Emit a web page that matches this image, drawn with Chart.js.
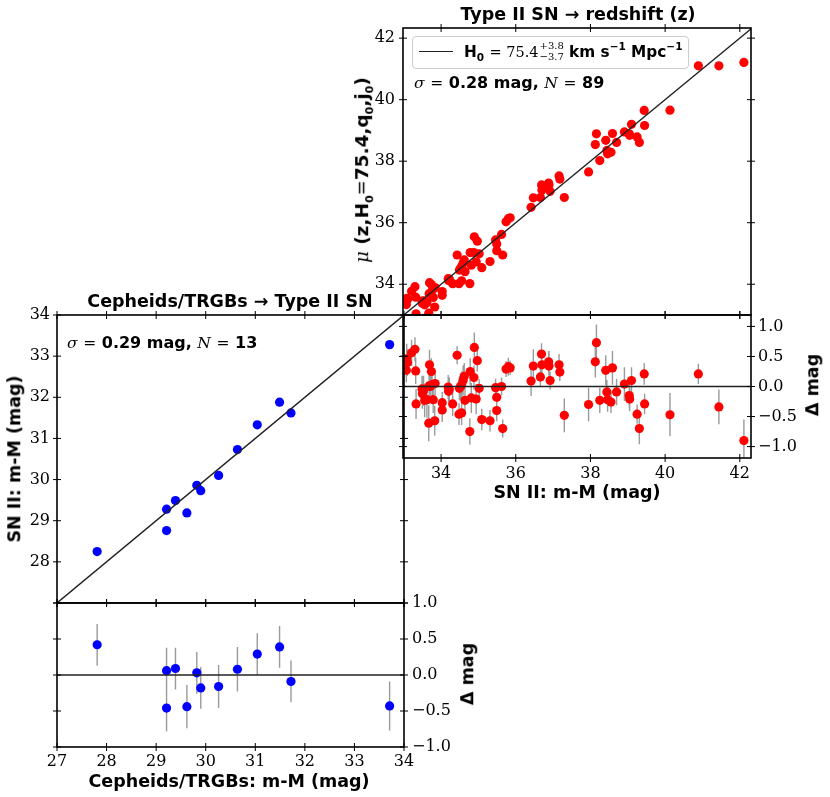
<!DOCTYPE html>
<html lang="en">
<head>
    <meta charset="UTF-8">
    <title>Type II SN distance ladder</title>
    <script src="https://cdn.jsdelivr.net/npm/chart.js"></script>
    <style>
        body {
            margin: 0;
            background: #fff;
        }
        #wrap {
            position: relative;
            width: 830px;
            height: 797px;
            overflow: hidden;
        }
        canvas {
            position: absolute;
        }
        .lbl {
            position: absolute;
            font-family: "DejaVu Sans", sans-serif;
            font-weight: bold;
            font-size: 17.5px;
            white-space: nowrap;
            color: #000;
            line-height: 1;
        }
        .c { transform: translate(-50%, -50%); }
        .l { transform: translate(0, -50%); }
        .rot { transform: translate(-50%, -50%) rotate(-90deg); }
        .m {
            font-family: "DejaVu Serif", serif;
            font-weight: normal;
            font-size: 16px;
        }
        .note { font-size: 16px; }
        .note .m { font-size: 15.5px; }
        .lbl sub, .lbl sup { font-size: 11px; }
        #legend {
            position: absolute;
            left: 412px;
            top: 36px;
            width: 277px;
            height: 33px;
            border: 1px solid #ccc;
            border-radius: 4px;
            background: rgba(255, 255, 255, 0.85);
            box-sizing: border-box;
        }
        #legend .sample {
            position: absolute;
            left: 6px;
            top: 14px;
            width: 34px;
            border-top: 1.5px solid #222;
        }
        #legend .lbl { left: 51px; top: 15px; font-size: 15.3px; }
        #legend .m { font-size: 14.5px; }
        #legend sub, #legend sup { font-size: 10.5px; }
        .pm {
            display: inline-block;
            vertical-align: middle;
            line-height: 1.05;
            margin-left: 1px;
        }
        #legend .pm { font-size: 10px; }
        .pm span { display: block; }
    </style>
</head>
<body>
<div id="wrap">
    <canvas id="snz" width="418" height="323" style="left:343px;top:10px"></canvas>
    <canvas id="snzRes" width="437" height="193" style="left:393px;top:297px"></canvas>
    <canvas id="cal" width="414" height="328" style="left:0px;top:295px"></canvas>
    <canvas id="calRes" width="470" height="214" style="left:0px;top:583px"></canvas>

    <div class="lbl c" style="left:578px;top:15px">Type II SN &rarr; redshift (z)</div>
    <div class="lbl rot" style="left:364px;top:170px;font-size:18.5px"><i class="m" style="font-size:18px">&mu;</i> (z,H<sub>0</sub><span class="m" style="font-size:18px">=</span>75.4,q<sub>0</sub>,j<sub>0</sub>)</div>
    <div id="legend">
        <span class="sample"></span>
        <div class="lbl l">H<sub>0</sub> <span class="m">= 75.4</span><span class="pm m"><span>+3.8</span><span>&minus;3.7</span></span> km s<sup>&minus;1</sup> Mpc<sup>&minus;1</sup></div>
    </div>
    <div class="lbl l note" style="left:414px;top:83px"><i class="m">&sigma;</i> <span class="m">=</span> 0.28 mag, <i class="m">N</i> <span class="m">=</span> 89</div>
    <div class="lbl c" style="left:577px;top:493px">SN II: m-M (mag)</div>
    <div class="lbl rot" style="left:813px;top:385px">&Delta; mag</div>

    <div class="lbl c" style="left:230px;top:302px">Cepheids/TRGBs &rarr; Type II SN</div>
    <div class="lbl l note" style="left:67px;top:343px"><i class="m">&sigma;</i> <span class="m">=</span> 0.29 mag, <i class="m">N</i> <span class="m">=</span> 13</div>
    <div class="lbl rot" style="left:15px;top:459px">SN II: m-M (mag)</div>
    <div class="lbl c" style="left:229px;top:782px">Cepheids/TRGBs: m-M (mag)</div>
    <div class="lbl rot" style="left:468px;top:674px">&Delta; mag</div>
</div>

<script>
    // calibrators: Cepheid/TRGB distance vs SN II distance
    const calDist = [27.81, 29.21, 29.21, 29.39, 29.62, 29.82, 29.90, 30.26, 30.64, 31.04, 31.49, 31.72, 33.71];
    const calSnDist = [28.25, 29.28, 28.76, 29.49, 29.19, 29.86, 29.73, 30.10, 30.73, 31.33, 31.88, 31.62, 33.28];
    const calResid = [0.42, 0.06, -0.46, 0.09, -0.44, 0.03, -0.18, -0.16, 0.08, 0.29, 0.39, -0.09, -0.43];
    const calErr = [0.29, 0.32, 0.32, 0.29, 0.30, 0.29, 0.29, 0.30, 0.31, 0.29, 0.29, 0.29, 0.34];

    // Hubble flow: SN II distance vs redshift distance
    const snDist = [33.08, 33.10, 33.07, 33.21, 33.30, 33.32, 33.33, 33.49, 33.50, 33.56,
        33.62, 33.67, 33.83, 33.69, 33.74, 33.68, 33.76, 33.84, 33.79, 34.03,
        34.03, 34.19, 34.20, 34.31, 34.43, 34.49, 34.55, 34.59, 34.62, 34.48,
        34.55, 34.64, 34.78, 34.77, 34.81, 34.88, 34.89, 34.94, 34.97, 35.02,
        35.09, 35.31, 35.46, 35.49, 35.49, 35.62, 35.65, 35.74, 35.80, 35.85,
        36.41, 36.47, 36.66, 36.69, 36.70, 36.88, 36.89, 36.92, 37.16, 37.18,
        37.30, 37.95, 38.13, 38.16, 38.25, 38.41, 38.44, 38.46, 38.55, 38.59,
        38.70, 38.91, 39.04, 39.05, 39.10, 39.25, 39.31, 39.44, 39.45, 40.13,
        40.89, 41.44, 42.11, 33.53, 33.71, 34.22, 34.52];
    const zDist = [33.54, 33.50, 33.34, 33.77, 33.92, 33.58, 33.04, 33.45, 33.38, 33.33,
        33.40, 33.06, 33.26, 34.05, 33.99, 33.69, 33.79, 33.89, 33.57, 33.76,
        33.64, 34.18, 34.12, 34.02, 34.95, 34.46, 34.58, 34.69, 34.79, 34.02,
        34.11, 34.41, 35.03, 34.02, 34.62, 35.03, 35.54, 34.73, 35.40, 34.99,
        34.54, 34.74, 35.44, 35.31, 35.09, 35.62, 34.95, 36.03, 36.13, 36.16,
        36.50, 36.81, 36.82, 37.23, 37.06, 37.29, 37.23, 37.02, 37.52, 37.42,
        36.82, 37.65, 38.54, 38.89, 38.02, 38.68, 38.35, 38.24, 38.29, 38.90,
        38.61, 38.95, 38.89, 38.84, 39.20, 38.79, 38.61, 39.65, 39.16, 39.66,
        41.10, 41.10, 41.21, 33.46, 33.71, 34.17, 34.52];
    const snResid = [0.46, 0.40, 0.27, 0.56, 0.62, 0.26, -0.29, -0.04, -0.12, -0.23,
        -0.22, -0.61, -0.57, 0.36, 0.25, 0.01, 0.03, 0.05, -0.22, -0.27,
        -0.39, -0.01, -0.08, -0.29, 0.52, -0.03, 0.03, 0.10, 0.17, -0.46,
        -0.44, -0.23, 0.25, -0.75, -0.19, 0.15, 0.65, -0.21, 0.43, -0.03,
        -0.55, -0.57, -0.02, -0.18, -0.40, 0.00, -0.70, 0.29, 0.33, 0.31,
        0.09, 0.34, 0.16, 0.54, 0.36, 0.41, 0.34, 0.10, 0.36, 0.24,
        -0.48, -0.30, 0.41, 0.73, -0.23, 0.27, -0.09, -0.22, -0.26, 0.31,
        -0.09, 0.04, -0.15, -0.21, 0.10, -0.46, -0.70, 0.21, -0.29, -0.47,
        0.21, -0.34, -0.90, -0.07, 0.00, -0.05, 0.00];
    const snErr = [0.25, 0.22, 0.20, 0.22, 0.20, 0.22, 0.25, 0.22, 0.25, 0.28,
        0.30, 0.30, 0.25, 0.25, 0.22, 0.30, 0.25, 0.20, 0.22, 0.18,
        0.20, 0.20, 0.18, 0.20, 0.15, 0.20, 0.22, 0.25, 0.22, 0.18,
        0.20, 0.22, 0.22, 0.22, 0.25, 0.20, 0.25, 0.25, 0.18, 0.15,
        0.18, 0.18, 0.15, 0.20, 0.18, 0.15, 0.15, 0.13, 0.15, 0.12,
        0.25, 0.28, 0.15, 0.18, 0.20, 0.18, 0.25, 0.15, 0.18, 0.15,
        0.28, 0.28, 0.26, 0.30, 0.21, 0.25, 0.20, 0.20, 0.18, 0.28,
        0.22, 0.28, 0.20, 0.20, 0.22, 0.16, 0.26, 0.18, 0.17, 0.36,
        0.17, 0.29, 0.35, 0.25, 0.25, 0.20, 0.22];

    // axis limits
    const calLim = [27, 34];
    const calResLim = [-1, 1];
    const snxLim = [32.98, 42.3];
    const snyLim = [33.0, 42.33];
    const snResLim = [-1.19, 1.19];

    const tickFont = { family: 'DejaVu Serif', size: 16 };
    const fmtRes = v => (v < 0 ? '\u2212' : '') + Math.abs(v).toFixed(1);

    // box around the plot area plus in/out ticks on all four sides
    const frameTicks = {
        id: 'frameTicks',
        afterDatasetsDraw(chart) {
            const ctx = chart.ctx;
            const a = chart.chartArea;
            const xs = chart.scales.x, ys = chart.scales.y;
            const len = 4;
            ctx.save();
            ctx.strokeStyle = '#000';
            ctx.lineWidth = 1;
            ctx.beginPath();
            xs.ticks.forEach(t => {
                const px = xs.getPixelForValue(t.value);
                if (px < a.left - 0.5 || px > a.right + 0.5) return;
                ctx.moveTo(px, a.top - len); ctx.lineTo(px, a.top + len);
                ctx.moveTo(px, a.bottom - len); ctx.lineTo(px, a.bottom + len);
            });
            ys.ticks.forEach(t => {
                const py = ys.getPixelForValue(t.value);
                if (py < a.top - 0.5 || py > a.bottom + 0.5) return;
                ctx.moveTo(a.left - len, py); ctx.lineTo(a.left + len, py);
                ctx.moveTo(a.right - len, py); ctx.lineTo(a.right + len, py);
            });
            ctx.stroke();
            ctx.lineWidth = 1.6;
            ctx.strokeRect(a.left, a.top, a.right - a.left, a.bottom - a.top);
            ctx.restore();
        }
    };

    function axis(lim, step, pos, size, showLabels, fmt, pad) {
        return {
            type: 'linear',
            position: pos,
            min: lim[0],
            max: lim[1],
            grid: { display: false, drawTicks: false },
            border: { display: false },
            ticks: {
                display: showLabels,
                stepSize: step,
                includeBounds: false,
                autoSkip: false,
                maxRotation: 0,
                font: tickFont,
                color: '#000',
                padding: pad,
                callback: fmt || (v => v)
            },
            afterFit: s => {
                if (s.isHorizontal()) s.height = size; else s.width = size;
            }
        };
    }

    function points(xs, ys, color) {
        return {
            type: 'scatter',
            data: xs.map((x, i) => ({ x: x, y: ys[i] })),
            backgroundColor: color,
            borderWidth: 0,
            pointRadius: 4.6,
            clip: 0
        };
    }

    function errBars(xs, ys, es) {
        const segs = [];
        xs.forEach((x, i) => {
            segs.push({ x: x, y: ys[i] - es[i] }, { x: x, y: ys[i] + es[i] }, { x: x, y: null });
        });
        return {
            type: 'line',
            data: segs,
            borderColor: 'rgba(120,120,120,0.75)',
            borderWidth: 1.4,
            pointRadius: 0,
            spanGaps: false,
            clip: 0
        };
    }

    function refLine(p0, p1) {
        return {
            type: 'line',
            data: [p0, p1],
            borderColor: '#222',
            borderWidth: 1.4,
            pointRadius: 0,
            clip: 0
        };
    }

    function makeChart(id, datasets, scales, padding) {
        return new Chart(document.getElementById(id), {
            type: 'scatter',
            data: { datasets: datasets },
            options: {
                responsive: false,
                animation: false,
                events: [],
                layout: { padding: padding },
                plugins: { legend: { display: false }, tooltip: { enabled: false } },
                scales: scales
            },
            plugins: [frameTicks]
        });
    }

    // SN II vs redshift
    makeChart('snz', [
        refLine({ x: snyLim[0], y: snyLim[0] }, { x: snyLim[1], y: snyLim[1] }),
        points(snDist, zDist, '#ff0000')
    ], {
        x: axis(snxLim, 2, 'bottom', 0, false, null, 0),
        y: axis(snyLim, 2, 'left', 60, true, null, 8)
    }, { top: 18, right: 10, bottom: 18, left: 0 });

    makeChart('snzRes', [
        refLine({ x: snxLim[0], y: 0 }, { x: snxLim[1], y: 0 }),
        points(snDist, snResid, '#ff0000'),
        errBars(snDist, snResid, snErr)
    ], {
        x: axis(snxLim, 2, 'bottom', 32, true, null, 6),
        y: axis(snResLim, 0.5, 'right', 79, true, fmtRes, 7)
    }, { top: 18, right: 0, bottom: 0, left: 10 });

    // calibrators
    makeChart('cal', [
        refLine({ x: calLim[0], y: calLim[0] }, { x: calLim[1], y: calLim[1] }),
        points(calDist, calSnDist, '#0000ff')
    ], {
        x: axis(calLim, 1, 'bottom', 0, false, null, 0),
        y: axis(calLim, 1, 'left', 57, true, v => (v === calLim[0] ? '' : v), 7)
    }, { top: 20, right: 10, bottom: 20, left: 0 });

    makeChart('calRes', [
        refLine({ x: calLim[0], y: 0 }, { x: calLim[1], y: 0 }),
        points(calDist, calResid, '#0000ff'),
        errBars(calDist, calResid, calErr)
    ], {
        x: axis(calLim, 1, 'bottom', 50, true, null, 5),
        y: axis(calResLim, 0.5, 'right', 66, true, fmtRes, 8)
    }, { top: 20, right: 0, bottom: 0, left: 57 });
</script>
</body>
</html>
